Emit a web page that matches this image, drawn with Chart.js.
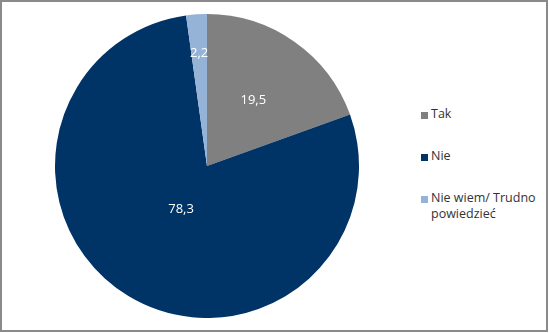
<!DOCTYPE html>
<html>
<head>
<meta charset="utf-8">
<script src="https://cdn.jsdelivr.net/npm/chart.js@4/dist/chart.umd.min.js"></script>
<style>
  html, body { margin: 0; padding: 0; background: #fff; }
  body { width: 549px; height: 333px; position: relative; overflow: hidden; font-family: "Open Sans", sans-serif; }
  #frame { position: absolute; left: 0; top: 0; width: 548px; height: 332px; box-sizing: border-box; border: 2px solid #8a8a8a; }
  #pieBox { position: absolute; left: 55px; top: 14px; width: 304px; height: 304px; }
  #legend { position: absolute; left: 421px; top: 106px; width: 125px; font-size: 12.5px; color: #333; }
  .item { position: absolute; left: 0; line-height: 16px; }
  .sw { position: absolute; left: 0; top: 6px; width: 7px; height: 7px; }
  .txt { position: absolute; left: 10px; top: 0; width: 115px; white-space: normal; }
</style>
</head>
<body>
<div id="frame"></div>
<div id="pieBox"><canvas id="c"></canvas></div>
<div id="legend"></div>
<script>
const categories = ["Tak", "Nie", "Nie wiem/ Trudno powiedzieć"];
const values = [19.5, 78.3, 2.2];
const valueLabels = ["19,5", "78,3", "2,2"];
const colors = ["#808080", "#003366", "#95B3D7"];
const labelRadius = [0.53, 0.33, 0.745];

const labelPlugin = {
  id: 'valLabels',
  afterDatasetsDraw(chart) {
    const ctx = chart.ctx;
    const meta = chart.getDatasetMeta(0);
    ctx.save();
    ctx.fillStyle = '#ffffff';
    ctx.font = '13px "Open Sans", sans-serif';
    ctx.textAlign = 'center';
    ctx.textBaseline = 'middle';
    meta.data.forEach((arc, i) => {
      const p = arc.getProps(['x', 'y', 'startAngle', 'endAngle', 'outerRadius'], true);
      const mid = (p.startAngle + p.endAngle) / 2;
      const r = p.outerRadius * labelRadius[i];
      ctx.fillText(valueLabels[i], p.x + Math.cos(mid) * r, p.y + Math.sin(mid) * r);
    });
    ctx.restore();
  }
};

new Chart(document.getElementById('c'), {
  type: 'pie',
  data: {
    labels: categories,
    datasets: [{ data: values, backgroundColor: colors, borderWidth: 0 }]
  },
  options: {
    responsive: true,
    maintainAspectRatio: false,
    animation: false,
    layout: { padding: 0 },
    plugins: { legend: { display: false }, tooltip: { enabled: false } }
  },
  plugins: [labelPlugin]
});

const legendTops = [0, 42, 84];
const legend = document.getElementById('legend');
categories.forEach((c, i) => {
  const it = document.createElement('div');
  it.className = 'item';
  it.style.top = legendTops[i] + 'px';
  const sw = document.createElement('div');
  sw.className = 'sw';
  sw.style.background = colors[i];
  const t = document.createElement('div');
  t.className = 'txt';
  t.textContent = c;
  it.appendChild(sw);
  it.appendChild(t);
  legend.appendChild(it);
});
</script>
</body>
</html>
